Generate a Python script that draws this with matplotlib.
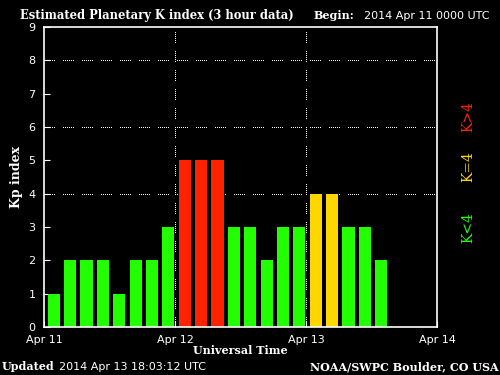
import numpy as np
from matplotlib import pyplot as plt

# Kp values, one per 3 hour interval starting 2014 Apr 11 00:00 UTC
kp = [1, 2, 2, 2, 1, 2, 2, 3,
      5, 5, 5, 3, 3, 2, 3, 3,
      4, 4, 3, 3, 2]
day_labels = ['Apr 11', 'Apr 12', 'Apr 13', 'Apr 14']

green = '#22ff00'
yellow = '#ffd700'
red = '#ff2200'


def bar_color(k):
	if k < 4:
		return green
	if k == 4:
		return yellow
	return red


fig = plt.figure(figsize=(5, 3.75), dpi=100, facecolor='black')
ax = fig.add_axes([0.088, 0.128, 0.786, 0.8])
ax.set_facecolor('black')

# Bars
x = np.arange(len(kp)) / 8 + 1 / 16 + 0.012
ax.bar(x, kp, width=0.092, color=[bar_color(k) for k in kp], zorder=2)

# Dotted grid lines (groups of dots, like the original pixel pattern)
px = 0.72
dots = (0, [1 * px, 2 * px] * 5 + [1 * px, 9 * px])
for yv in [4, 6, 8]:
	ax.axhline(yv, color='white', ls=dots, lw=1, zorder=1, antialiased=False)
for xv in [1, 2]:
	ax.axvline(xv, color='white', ls=dots, lw=1, zorder=3, antialiased=False)

ax.set_xlim(0, 3)
ax.set_ylim(0, 9)
ax.set_xticks(range(4))
ax.set_xticklabels(day_labels)
ax.set_xticks(x, minor=True)
ax.set_yticks(range(10))
ax.tick_params(axis='y', colors='white', direction='in', length=4, labelsize=8, pad=6)
ax.tick_params(axis='x', which='major', colors='white', direction='in', length=4, labelsize=8, pad=6)
ax.tick_params(axis='x', which='minor', color='black', direction='in', length=4, width=1)
for s in ax.spines.values():
	s.set_color('white')
	s.set_linewidth(1.2)

ax.set_xlabel('Universal Time', color='white', family='DejaVu Serif',
	fontweight='bold', fontsize=8, labelpad=0)
ax.set_ylabel('Kp index', color='white', family='DejaVu Serif',
	fontweight='bold', fontsize=9, labelpad=4)

# Header and footer texts
fig.text(0.04, 0.96, 'Estimated Planetary K index (3 hour data)', color='white',
	family='DejaVu Serif', fontweight='bold', fontsize=8.3, va='center')
fig.text(0.628, 0.958, 'Begin:', color='white', family='DejaVu Serif',
	fontweight='bold', fontsize=8, va='center')
fig.text(0.728, 0.958, '2014 Apr 11 0000 UTC', color='white', fontsize=8, va='center')
fig.text(0.004, 0.022, 'Updated', color='white', family='DejaVu Serif',
	fontweight='bold', fontsize=8, va='center')
fig.text(0.118, 0.022, '2014 Apr 13 18:03:12 UTC', color='white', fontsize=8, va='center')
fig.text(0.998, 0.022, 'NOAA/SWPC Boulder, CO USA', color='white', family='DejaVu Serif',
	fontweight='bold', fontsize=8, va='center', ha='right')

# Color legend on the right
fig.text(0.936, 0.69, 'K>4', color=red, rotation=90, family='DejaVu Serif',
	fontsize=10, ha='center', va='center')
fig.text(0.936, 0.555, 'K=4', color=yellow, rotation=90, family='DejaVu Serif',
	fontsize=10, ha='center', va='center')
fig.text(0.936, 0.392, 'K<4', color=green, rotation=90, family='DejaVu Serif',
	fontsize=10, ha='center', va='center')

fig.savefig('out.png', dpi=100, facecolor='black')
